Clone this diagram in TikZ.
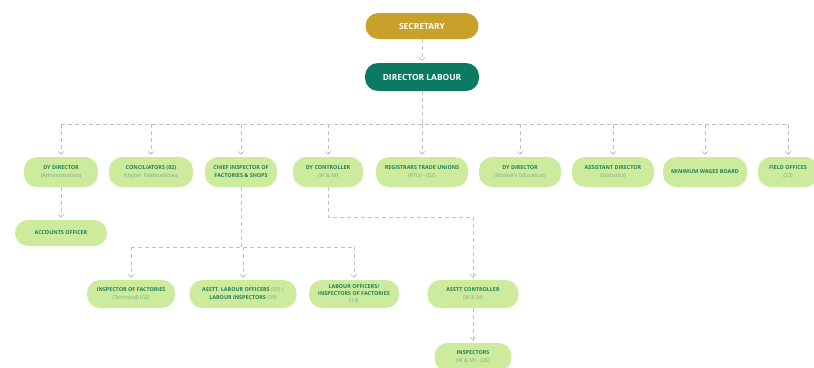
\documentclass[tikz,border=0pt]{standalone}
\usepackage{fontspec}
\setmainfont{Open Sans}
\usetikzlibrary{arrows.meta}
\definecolor{topgold}{HTML}{C9A02A}
\definecolor{dirteal}{HTML}{0C7A62}
\definecolor{boxgreen}{HTML}{CDEB9C}
\definecolor{txtgreen}{HTML}{217F57}
\definecolor{subgray}{HTML}{86A886}
\definecolor{linegray}{HTML}{C2C2C2}
\newcommand\subt[1]{{\mdseries\color{subgray}#1}}
\tikzset{
  box/.style={fill=boxgreen, rounded corners=13pt, minimum height=30pt, inner sep=1pt,
    align=center, text=txtgreen, font=\fontsize{5.4}{8}\selectfont\bfseries},
  topbox/.style={rounded corners=13pt, inner sep=1pt, align=center, text=white,
    font=\fontsize{8.4}{10}\selectfont\bfseries},
  conn/.style={draw=linegray, line width=0.6pt, dash pattern=on 4pt off 3pt},
  arr/.style={conn, -{Straight Barb[length=3pt,width=6pt]}, shorten >=2pt}
}
\begin{document}
\begin{tikzpicture}[x=1pt,y=-1pt]
\useasboundingbox (0,0) rectangle (814,367);
\fill[white] (0,0) rectangle (814,367);

% top
\node[topbox, fill=topgold, minimum width=113pt, minimum height=26pt] (sec) at (422,26) {SECRETARY};
\node[topbox, fill=dirteal, minimum width=114pt, minimum height=28pt] (dir) at (422,77) {DIRECTOR LABOUR};

% row 1
\node[box, minimum width=74pt] (dyadm) at (61,172) {DY DIRECTOR\\\subt{(Administration)}};
\node[box, minimum width=84pt] (conc) at (151,172) {CONCILIATORS (02)\\\subt{Khyber Pakhtunkhwa}};
\node[box, minimum width=72pt] (chief) at (241,172) {CHIEF INSPECTOR OF\\FACTORIES \& SHOPS};
\node[box, minimum width=70pt] (dyc) at (328,172) {DY CONTROLLER\\\subt{(W \& M)}};
\node[box, minimum width=92pt] (reg) at (422,172) {REGISTRARS TRADE UNIONS\\\subt{(RTU) - (02)}};
\node[box, minimum width=82pt] (dywe) at (520,172) {DY DIRECTOR\\\subt{(Worker's Education)}};
\node[box, minimum width=82pt] (asd) at (613,172) {ASSISTANT DIRECTOR\\\subt{(Statistics)}};
\node[box, minimum width=84pt] (mwb) at (705,172) {MINIMUM WAGES BOARD};
\node[box, minimum width=60pt] (fo) at (788,172) {FIELD OFFICES\\\subt{(23)}};

% row 2
\node[box, minimum width=92pt, minimum height=26pt] (acc) at (61,233) {ACCOUNTS OFFICER};

% row 3
\node[box, minimum width=88pt, minimum height=28pt] (insf) at (131,294) {INSPECTOR OF FACTORIES\\\subt{(Technical) (02)}};
\node[box, minimum width=107pt, minimum height=28pt] (alo) at (243,294) {ASSTT. LABOUR OFFICERS \subt{(02) /}\\LABOUR INSPECTORS \subt{(39)}};
\node[box, minimum width=90pt, minimum height=28pt, font=\fontsize{5.4}{7}\selectfont\bfseries] (lo) at (354,294) {LABOUR OFFICERS/\\INSPECTORS OF FACTORIES\\\subt{(14)}};
\node[box, minimum width=91pt, minimum height=28pt] (asc) at (473,294) {ASSTT CONTROLLER\\\subt{(W \& M)}};

% row 4
\node[box, minimum width=77pt, minimum height=28pt] (insp) at (473,357) {INSPECTORS\\\subt{(W \& M) - (26)}};

% connectors
\draw[arr] (sec) -- (dir);
\coordinate (busL) at (61,124);
\coordinate (busR) at (788,124);
\draw[conn] (dir.south) -- (dir.south |- busL);
\draw[conn] (busL) -- (busR);
\foreach \n in {dyadm,conc,chief,dyc,reg,dywe,asd,mwb,fo}
  \draw[arr] (\n.north |- busL) -- (\n.north);

\draw[arr] (dyadm) -- (acc);

\coordinate (bus2L) at (131,247);
\coordinate (bus2R) at (354,247);
\draw[conn] (chief.south) -- (chief.south |- bus2L);
\draw[conn] (bus2L) -- (bus2R);
\foreach \n in {insf,alo,lo}
  \draw[arr] (\n.north |- bus2L) -- (\n.north);

\coordinate (ctrbend) at (473,217);
\draw[arr] (dyc.south) |- (ctrbend) -- (asc.north);
\draw[arr] (asc) -- (insp);
\end{tikzpicture}
\end{document}
